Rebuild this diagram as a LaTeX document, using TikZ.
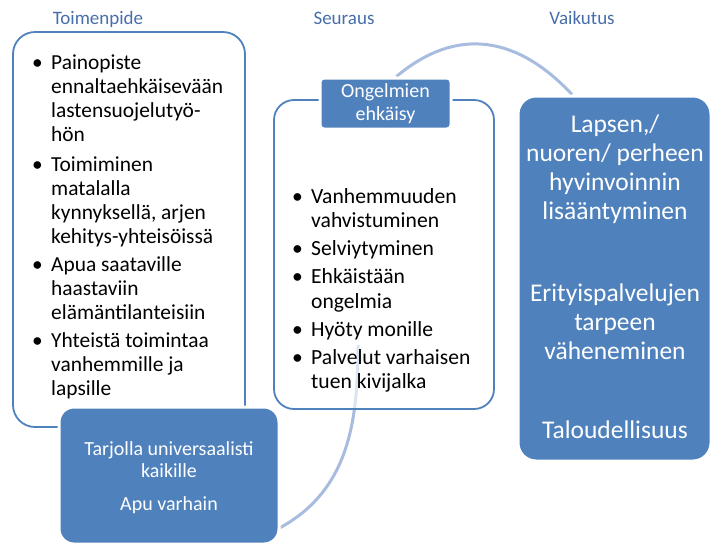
\documentclass[tikz,border=0pt]{standalone}
\usepackage{fontspec}
\setmainfont{Carlito}
\usetikzlibrary{backgrounds}
\definecolor{boxblue}{RGB}{79,129,189}
\definecolor{loopblue}{RGB}{167,188,222}
\definecolor{headblue}{RGB}{71,110,170}
\newcommand{\bul}{\makebox[17pt][l]{\hspace{-2pt}\textbullet}}

\begin{document}
\begin{tikzpicture}[x=1pt,y=-1pt,
    whitebox/.style={draw=boxblue,line width=1.8pt,fill=white,rounded corners=22pt,inner sep=0pt},
    bluebox/.style={draw=white,line width=3pt,fill=boxblue,rounded corners=15pt,inner sep=0pt},
    headtext/.style={text=headblue,anchor=base,inner sep=0pt,font=\fontsize{19}{22}\selectfont},
    listtext/.style={anchor=base west,inner sep=0pt,font=\fontsize{21.4}{24}\selectfont},
    looptext/.style={text=white,anchor=base,inner sep=0pt},
    loopline/.style={draw=loopblue,line width=3pt}]
\useasboundingbox (0,0) rectangle (712,547);

% column heads
\node[headtext] (toimenpide) at (98,24) {Toimenpide};
\node[headtext] (seuraus) at (344,24) {Seuraus};
\node[headtext] (vaikutus) at (582,24) {Vaikutus};

% boxes
\node[whitebox,minimum width=232pt,minimum height=395pt] (leftbox) at (129,229.5) {};
\node[bluebox,minimum width=220pt,minimum height=137pt] (tarjolla) at (169,475.5) {};
\node[whitebox,fill opacity=0.6,rounded corners=20pt,minimum width=220pt,minimum height=309pt] (midbox) at (384,254.5) {};
\node[bluebox,rounded corners=4pt,minimum width=131pt,minimum height=51pt] (ongelmien) at (385.5,103.5) {};
\node[bluebox,rounded corners=18pt,minimum width=193pt,minimum height=365pt] (vaikutusbox) at (614.5,278.5) {};
\coordinate (fadeend) at (358,345);

% texts
\node[listtext] (leftlist) at (34,69) {\begin{tabular}[t]{@{}l@{}l@{}}
\bul & Painopiste\\
 & ennaltaehkäisevään\\
 & lastensuojelutyö-\\
 & hön\\[6pt]
\bul & Toimiminen\\
 & matalalla\\
 & kynnyksellä, arjen\\
 & kehitys-yhteisöissä\\[4pt]
\bul & Apua saataville\\
 & haastaviin\\
 & elämäntilanteisiin\\[4pt]
\bul & Yhteistä toimintaa\\
 & vanhemmille ja\\
 & lapsille
\end{tabular}};
\node[listtext,font=\fontsize{21.6}{24.5}\selectfont] (midlist) at (294,203) {\begin{tabular}[t]{@{}l@{}l@{}}
\bul & Vanhemmuuden\\
 & vahvistuminen\\[3.5pt]
\bul & Selviytyminen\\[3.5pt]
\bul & Ehkäistään\\
 & ongelmia\\[3.5pt]
\bul & Hyöty monille\\[3.5pt]
\bul & Palvelut varhaisen\\
 & tuen kivijalka
\end{tabular}};
\node[looptext,font=\fontsize{20}{23}\selectfont] (ongelmientext) at (385.5,97) {\begin{tabular}[t]{@{}c@{}}Ongelmien\\ehkäisy\end{tabular}};
\node[looptext,font=\fontsize{20}{22.5}\selectfont] (tarjollatext) at (169,455) {\begin{tabular}[t]{@{}c@{}}Tarjolla universaalisti\\kaikille\\[10pt]Apu varhain\end{tabular}};
\node[looptext,font=\fontsize{25.5}{29}\selectfont] (vaikutustext) at (615,132) {\begin{tabular}[t]{@{}c@{}}Lapsen,/\\nuoren/ perheen\\hyvinvoinnin\\lisääntyminen\\[53pt]Erityispalvelujen\\tarpeen\\väheneminen\\[50pt]Taloudellisuus\end{tabular}};

% arcs
\begin{scope}[on background layer]
\draw[loopline] (ongelmien.68) to[out=40,in=133,looseness=1.15] (vaikutusbox.103);
\draw[loopline] (tarjolla.-25) to[out=29,in=-90] (fadeend);
\end{scope}
\end{tikzpicture}
\end{document}
